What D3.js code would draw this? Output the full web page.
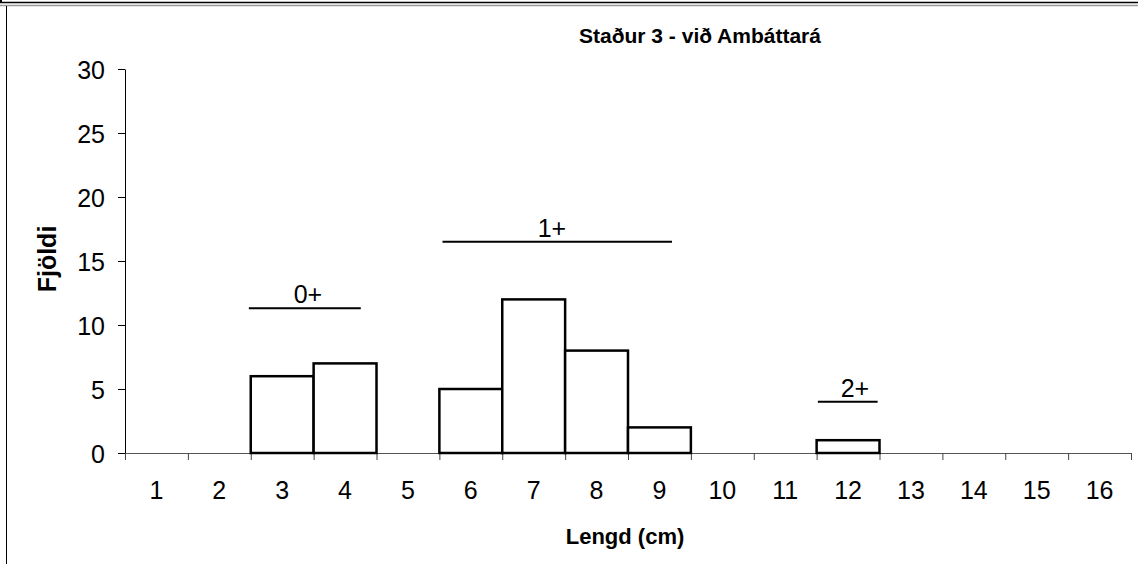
<!DOCTYPE html>
<html>
<head>
<meta charset="utf-8">
<script src="https://cdn.jsdelivr.net/npm/d3@7"></script>
<style>
  html, body { margin: 0; padding: 0; background: #fff; }
  svg { display: block; font-family: Arial, "Liberation Sans", sans-serif; }
</style>
</head>
<body>
<svg id="chart" width="1138" height="564"></svg>
<script>
// ---- data ----
const categories = ["1","2","3","4","5","6","7","8","9","10","11","12","13","14","15","16"];
const counts = [0,0,6,7,0,5,12,8,2,0,0,1,0,0,0,0];
const yTicks = [0,5,10,15,20,25,30];
const groupLabels = ["0+","1+","2+"];
const groupStart = [2.47, 5.55, 11.52];   // in length units (category centres = integers)
const groupEnd = [4.25, 9.2, 12.47];
const groupLevel = [11.3, 16.5, 4.0];     // in count units
const groupLabelPos = [3.41, 7.29, 12.11];
const titleText = "Staður 3 - við Ambáttará";
const xTitle = "Lengd (cm)";
const yTitle = "Fjöldi";

// ---- layout ----
const W = 1138, H = 564;
const mLeft = 125, mRight = 1131, mTop = 69, mBottom = 453;
const FONT = "Arial, 'Liberation Sans', sans-serif";
const svg = d3.select("#chart");

// frame
svg.append("line").attr("x1",0).attr("x2",W).attr("y1",2.5).attr("y2",2.5).attr("stroke","#000").attr("stroke-width",1.5);
svg.append("line").attr("x1",0).attr("x2",W).attr("y1",5.5).attr("y2",5.5).attr("stroke","#999").attr("stroke-width",1.5);
svg.append("line").attr("x1",1).attr("x2",1).attr("y1",0).attr("y2",3).attr("stroke","#000").attr("stroke-width",2);
svg.append("line").attr("x1",6.5).attr("x2",6.5).attr("y1",6).attr("y2",H).attr("stroke","#000").attr("stroke-width",1);

// scales
const x = d3.scaleBand().domain(categories).range([mLeft, mRight]).padding(0);
const xl = d3.scaleLinear().domain([0.5, categories.length + 0.5]).range([mLeft, mRight]);
const y = d3.scaleLinear().domain([0, 30]).range([mBottom, mTop]);

// y axis
const yAxis = svg.append("g").attr("transform", `translate(${mLeft},0)`)
  .call(d3.axisLeft(y).tickValues(yTicks).tickSize(7).tickSizeOuter(0).tickPadding(13));
yAxis.selectAll("text").attr("font-size", 25).attr("font-family", FONT).attr("fill","#000").attr("dy","0.36em");
yAxis.selectAll("line").attr("stroke","#000");
yAxis.select(".domain").attr("stroke","#000");

// x axis ticks at band boundaries
const xTickAxis = svg.append("g").attr("transform", `translate(0,${mBottom})`)
  .call(d3.axisBottom(xl).tickValues(d3.range(0.5, categories.length + 1, 1)).tickSize(7).tickSizeOuter(0).tickFormat(""));
xTickAxis.selectAll("line").attr("stroke","#444");
xTickAxis.select(".domain").attr("stroke","#555");

// x axis labels at band centres
const xLab = svg.append("g").attr("transform", `translate(0,${mBottom})`)
  .call(d3.axisBottom(x).tickSize(0).tickPadding(28));
xLab.select(".domain").remove();
xLab.selectAll("text").attr("font-size", 25).attr("font-family", FONT).attr("fill","#000").attr("dy","0.71em");

// bars
const barData = categories.map((c, i) => ({c, v: counts[i]})).filter(d => d.v > 0);
svg.append("g").selectAll("rect").data(barData).join("rect")
  .attr("x", d => x(d.c))
  .attr("y", d => y(d.v))
  .attr("width", x.bandwidth())
  .attr("height", d => y(0) - y(d.v))
  .attr("fill", "#fff")
  .attr("stroke", "#000")
  .attr("stroke-width", 2.5);

// age group annotations
const groups = groupLabels.map((g, i) => ({g, s: groupStart[i], e: groupEnd[i], lv: groupLevel[i], lp: groupLabelPos[i]}));
const ag = svg.append("g");
ag.selectAll("line").data(groups).join("line")
  .attr("x1", d => xl(d.s)).attr("x2", d => xl(d.e))
  .attr("y1", d => y(d.lv)).attr("y2", d => y(d.lv))
  .attr("stroke", "#000").attr("stroke-width", 2);
ag.selectAll("text").data(groups).join("text")
  .attr("x", d => xl(d.lp)).attr("y", d => y(d.lv) - 5)
  .attr("text-anchor", "middle").attr("font-size", 25).attr("font-family", FONT).text(d => d.g);

// titles
svg.append("text").attr("x", 700).attr("y", 43).attr("text-anchor","middle")
  .attr("font-size", 21).attr("font-weight","bold").text(titleText);
svg.append("text").attr("x", 625).attr("y", 544).attr("text-anchor","middle")
  .attr("font-size", 22).attr("font-weight","bold").text(xTitle);
svg.append("text").attr("transform","translate(47,259) rotate(-90)").attr("dy","0.35em").attr("text-anchor","middle")
  .attr("font-size", 25).attr("font-weight","bold").text(yTitle);
</script>
</body>
</html>
